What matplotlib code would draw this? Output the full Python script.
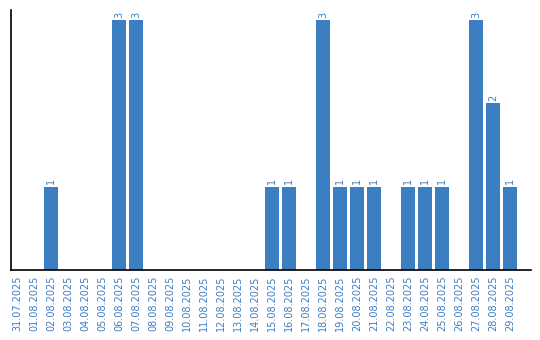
import matplotlib
matplotlib.use("Agg")
import matplotlib.pyplot as plt

dates = ["31.07.2025", "01.08.2025", "02.08.2025", "03.08.2025", "04.08.2025", "05.08.2025",
         "06.08.2025", "07.08.2025", "08.08.2025", "09.08.2025", "10.08.2025", "11.08.2025",
         "12.08.2025", "13.08.2025", "14.08.2025", "15.08.2025", "16.08.2025", "17.08.2025",
         "18.08.2025", "19.08.2025", "20.08.2025", "21.08.2025", "22.08.2025", "23.08.2025",
         "24.08.2025", "25.08.2025", "26.08.2025", "27.08.2025", "28.08.2025", "29.08.2025"]
counts = [0, 0, 1, 0, 0, 0, 3, 3, 0, 0, 0, 0, 0, 0, 0, 1, 1, 0, 3, 1, 1, 1, 0, 1, 1, 1, 0, 3, 2, 1]

color = "#3b7ec2"
fig = plt.figure(figsize=(5.4, 3.4), dpi=100)
ax = fig.add_axes([10.5/540, 70/340, 520/540, 260/340])
x = list(range(len(dates)))
ax.bar(x, counts, width=0.82, color=color)
for xi, v in zip(x, counts):
    if v > 0:
        ax.text(xi, v + 0.03, str(v), rotation=90, ha="center", va="bottom",
                color=color, fontsize=7)
ax.set_xlim(-0.38, 30.2)
ax.set_ylim(0, 3.12)
ax.set_xticks(x)
ax.set_xticklabels(dates, rotation=90, color=color, fontsize=7)
ax.tick_params(axis="x", length=0, pad=4)
ax.set_yticks([])
ax.spines["top"].set_visible(False)
ax.spines["right"].set_visible(False)
ax.spines["left"].set_linewidth(1.2)
ax.spines["bottom"].set_linewidth(1.2)
fig.savefig("out.png", dpi=100)
